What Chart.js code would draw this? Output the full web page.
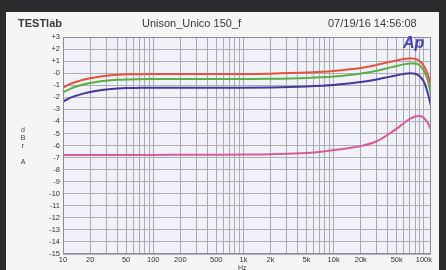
<!DOCTYPE html>
<html><head><meta charset="utf-8">
<script src="https://cdn.jsdelivr.net/npm/chart.js@4/dist/chart.umd.min.js"></script>
<style>
html,body{margin:0;padding:0;width:446px;height:270px;overflow:hidden;background:#2b2a2c;}
#panel{position:absolute;left:6px;top:12px;width:433px;height:258px;background:#f5f5f3;}
#wrap{position:absolute;left:0;top:0;width:446px;height:270px;}
.t{position:absolute;font-family:"Liberation Sans",Arial,sans-serif;color:#3a3a3a;font-size:11px;white-space:nowrap;}
</style></head><body>
<div id="panel"></div>
<div id="wrap"><canvas id="c" width="446" height="270"></canvas></div>
<div class="t" style="left:18px;top:17px;font-weight:bold;">TESTlab</div>
<div class="t" style="left:142px;top:17px;">Unison_Unico 150_f</div>
<div class="t" style="left:328px;top:17px;">07/19/16 14:56:08</div>
<div class="t" style="left:403px;top:34px;font-size:16px;font-weight:bold;font-style:italic;color:#4a40b8;">Ap</div>
<div class="t" style="left:19px;top:126px;font-size:7px;line-height:8px;text-align:center;width:8px;">d<br>B<br>r<br><br>A</div>
<div class="t" style="left:238px;top:264px;font-size:7px;">Hz</div>
<script>
const freqs = [10,12,15,20,25,30,40,50,70,100,200,500,1000,2000,5000,10000,15000,20000,30000,40000,50000,60000,70000,80000,90000,100000,110000,120000];
const redSeries   = [-1.2,-0.9,-0.65,-0.42,-0.3,-0.22,-0.14,-0.1,-0.08,-0.07,-0.06,-0.06,-0.06,-0.04,0.05,0.18,0.32,0.43,0.68,0.9,1.05,1.17,1.23,1.2,1.0,0.6,-0.05,-1.0];
const greenSeries = [-1.6,-1.3,-1.05,-0.82,-0.7,-0.62,-0.55,-0.52,-0.5,-0.49,-0.48,-0.48,-0.48,-0.47,-0.4,-0.28,-0.15,-0.03,0.2,0.42,0.6,0.73,0.8,0.8,0.65,0.2,-0.55,-1.8];
const blueSeries  = [-2.35,-2.05,-1.8,-1.56,-1.43,-1.36,-1.28,-1.24,-1.22,-1.21,-1.2,-1.2,-1.2,-1.18,-1.1,-0.98,-0.85,-0.74,-0.52,-0.33,-0.18,-0.06,0.0,-0.05,-0.25,-0.7,-1.6,-2.75];
const pinkSeries  = [-6.78,-6.78,-6.78,-6.78,-6.78,-6.78,-6.78,-6.78,-6.78,-6.78,-6.77,-6.76,-6.75,-6.72,-6.62,-6.38,-6.2,-6.05,-5.65,-5.1,-4.6,-4.15,-3.8,-3.6,-3.55,-3.7,-4.1,-4.7];
const xLabels = {10:'10',20:'20',50:'50',100:'100',200:'200',500:'500',1000:'1k',2000:'2k',5000:'5k',10000:'10k',20000:'20k',50000:'50k',100000:'100k'};

function pts(arr){ return freqs.map((f,i)=>({x:f,y:arr[i]})); }
function ds(arr,color){ return {data:pts(arr),borderColor:color,borderWidth:2,pointRadius:0,fill:false,cubicInterpolationMode:'monotone'}; }

const gridTicks = [];
for (let d=10; d<=100000; d*=10) for (let m=1; m<=9; m++) { const v=d*m; if (v<=100000) gridTicks.push(v); }

const bgPlugin = {
  id:'bg',
  beforeDraw(chart){
    const a=chart.chartArea, ctx=chart.ctx;
    ctx.save(); ctx.fillStyle='#f1f2f8'; ctx.fillRect(a.left,a.top,a.right-a.left,a.bottom-a.top); ctx.restore();
  },
  afterDatasetsDraw(chart){
    const a=chart.chartArea, ctx=chart.ctx;
    ctx.save(); ctx.strokeStyle='#8a8a9a'; ctx.lineWidth=1;
    ctx.strokeRect(a.left+0.5,a.top+0.5,a.right-a.left-1,a.bottom-a.top-1); ctx.restore();
  }
};

new Chart(document.getElementById('c'), {
  type:'line',
  data:{datasets:[ds(redSeries,'#e8523c'),ds(greenSeries,'#5aae42'),ds(blueSeries,'#4636a0'),ds(pinkSeries,'#d85c9c')]},
  options:{
    responsive:false, animation:false, events:[],
    layout:{padding:{left:0,right:15,top:37,bottom:0}},
    plugins:{legend:{display:false},tooltip:{enabled:false}},
    scales:{
      x:{type:'logarithmic',min:10,max:120000,
        afterBuildTicks(s){ s.ticks = gridTicks.map(v=>({value:v})); },
        afterFit(s){ s.height=16; },
        ticks:{autoSkip:false,maxRotation:0,minRotation:0,padding:1,color:'#333',font:{family:'Liberation Sans',size:7.5},
          callback(v){ return xLabels[v]||''; }},
        grid:{color:'#a9a9b3',lineWidth:1,drawTicks:false},
        border:{display:false}
      },
      y:{min:-15,max:3,
        afterFit(s){ s.width=63; },
        ticks:{stepSize:1,padding:3,color:'#333',font:{family:'Liberation Sans',size:7.5},
          callback(v){ return v>0?'+'+v:(v===0?'-0':String(v)); }},
        grid:{color:'#aeaeb8',lineWidth:1,drawTicks:false},
        border:{display:false}
      }
    }
  },
  plugins:[bgPlugin]
});
</script>
</body></html>
